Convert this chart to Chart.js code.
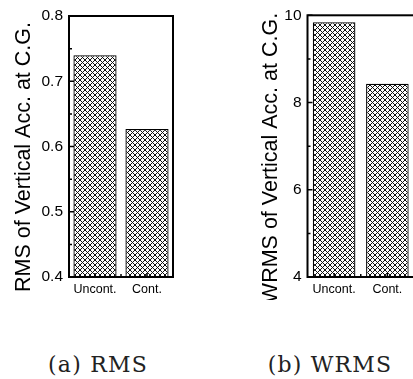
<!DOCTYPE html>
<html>
<head>
<meta charset="utf-8">
<script src="https://cdn.jsdelivr.net/npm/chart.js@4.4.1/dist/chart.umd.min.js"></script>
<style>
html, body { margin: 0; padding: 0; background: #fff; width: 413px; height: 379px; overflow: hidden; position: relative; }
canvas { position: absolute; top: 0; }
#rmsChart { left: 0; }
#wrmsChart { left: 200px; }
.caption { position: absolute; top: 354px; width: 200px; text-align: center; font-family: 'DejaVu Serif', serif; font-size: 22px; line-height: 22px; letter-spacing: 1.2px; color: #222; }
</style>
</head>
<body>
<canvas id="rmsChart" width="200" height="300"></canvas>
<canvas id="wrmsChart" width="230" height="300"></canvas>
<div class="caption" style="left:-2px">(a) RMS</div>
<div class="caption" style="left:230px">(b) WRMS</div>
<script>
var categories = ['Uncont.', 'Cont.'];
var rmsValues = [0.74, 0.627];
var wrmsValues = [9.84, 8.43];
var rmsTicks = [0.4, 0.5, 0.6, 0.7, 0.8];
var wrmsTicks = [4, 6, 8, 10];

// cross hatch fill for the bars, drawn pixel by pixel so it stays crisp
function hatch() {
    var n = 5;
    var c = document.createElement('canvas');
    c.width = n; c.height = n;
    var g = c.getContext('2d');
    g.fillStyle = '#fff';
    g.fillRect(0, 0, n, n);
    g.fillStyle = '#111';
    for (var i = 0; i < n; i++) {
        g.fillRect(i, i, 1, 1);
        g.fillRect(i, n - 1 - i, 1, 1);
    }
    return g.createPattern(c, 'repeat');
}

// box frame, inward ticks and rotated y title
var framePlugin = {
    id: 'frame',
    afterDraw: function(chart, args, opts) {
        var ctx = chart.ctx, a = chart.chartArea;
        var y = chart.scales.y, x = chart.scales.x;
        ctx.save();
        ctx.strokeStyle = '#000';
        ctx.lineWidth = 2;
        ctx.strokeRect(a.left, a.top, a.right - a.left, a.bottom - a.top);
        ctx.lineWidth = 1.5;
        ctx.beginPath();
        y.ticks.forEach(function(t, i) {
            var py = y.getPixelForValue(t.value);
            ctx.moveTo(a.left, py); ctx.lineTo(a.left + 5, py);
            if (i > 0) {
                var pm = y.getPixelForValue((t.value + y.ticks[i - 1].value) / 2);
                ctx.moveTo(a.left, pm); ctx.lineTo(a.left + 3, pm);
            }
        });
        x.ticks.forEach(function(t, i) {
            var px = x.getPixelForTick(i);
            ctx.moveTo(px, a.bottom); ctx.lineTo(px, a.bottom - 4);
            if (i > 0) {
                var pm = (px + x.getPixelForTick(i - 1)) / 2;
                ctx.moveTo(pm, a.bottom); ctx.lineTo(pm, a.bottom - 3);
            }
        });
        ctx.stroke();
        ctx.translate(opts.x, opts.y);
        ctx.rotate(-Math.PI / 2);
        ctx.font = '21.5px "Liberation Sans", Arial, sans-serif';
        ctx.fillStyle = '#000';
        ctx.textAlign = 'center';
        ctx.textBaseline = 'alphabetic';
        ctx.fillText(opts.text, 0, 0);
        ctx.restore();
    }
};

function makeChart(id, values, ticks, decimals, barPct, yWidth, pad, title) {
    return new Chart(document.getElementById(id), {
        type: 'bar',
        data: {
            labels: categories,
            datasets: [{
                data: values,
                backgroundColor: hatch(),
                borderColor: '#000',
                borderWidth: 1.3,
                categoryPercentage: 1,
                barPercentage: barPct
            }]
        },
        options: {
            responsive: false,
            devicePixelRatio: 1,
            animation: false,
            events: [],
            layout: { padding: pad },
            plugins: {
                legend: { display: false },
                tooltip: { enabled: false },
                frame: title
            },
            scales: {
                x: {
                    grid: { display: false, drawTicks: false },
                    border: { display: false },
                    ticks: { color: '#000', padding: 5, font: { family: '"Liberation Sans", Arial', size: 12.5 } },
                    afterFit: function(s) { s.height = 23; }
                },
                y: {
                    min: ticks[0],
                    max: ticks[ticks.length - 1],
                    grid: { display: false, drawTicks: false },
                    border: { display: false },
                    afterBuildTicks: function(s) { s.ticks = ticks.map(function(v) { return { value: v }; }); },
                    ticks: {
                        color: '#000',
                        padding: 6,
                        font: { family: '"Liberation Sans", Arial', size: 15.5 },
                        callback: function(v) { return Number(v).toFixed(decimals); }
                    },
                    afterFit: function(s) { s.width = yWidth; }
                }
            }
        },
        plugins: [framePlugin]
    });
}

var rmsChart = makeChart('rmsChart', rmsValues, rmsTicks, 1, 0.83, 69,
    { left: 0, right: 27, top: 16, bottom: 0 },
    { x: 30, y: 157, text: 'RMS of Vertical Acc. at C.G.' });

var wrmsChart = makeChart('wrmsChart', wrmsValues, wrmsTicks, 0, 0.8, 107.5,
    { left: 0, right: 16, top: 13, bottom: 0 },
    { x: 77, y: 158, text: 'WRMS of Vertical Acc. at C.G.' });
</script>
</body>
</html>
